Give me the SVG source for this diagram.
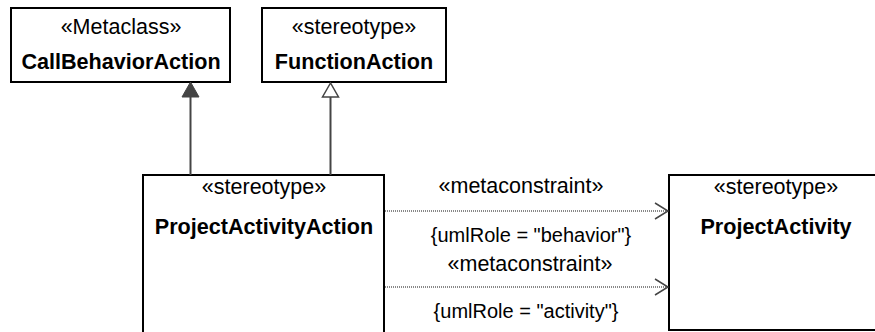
<svg xmlns="http://www.w3.org/2000/svg" width="875" height="332" viewBox="0 0 875 332">
<style>
.box{fill:#fff;stroke:#000;stroke-width:2}
.t{font-family:"Liberation Sans",Arial,sans-serif;font-size:21.5px;fill:#000;text-anchor:middle}
.b{font-weight:bold;font-size:21.6px}
.c{font-size:20px}
.gen{stroke:#444;stroke-width:2;fill:none}
.dep{stroke:#888;stroke-width:2;stroke-dasharray:1 1;fill:none}
.open{stroke:#444;stroke-width:1.5;fill:none}
</style>
<rect width="875" height="332" fill="#fff"/>
<g id="CallBehaviorAction">
<rect class="box" x="11" y="8" width="219" height="74"/>
<text class="t" x="121" y="34">«Metaclass»</text>
<text class="t b" x="121" y="69">CallBehaviorAction</text>
</g>
<g id="FunctionAction">
<rect class="box" x="262" y="8" width="184" height="74"/>
<text class="t" x="354" y="34">«stereotype»</text>
<text class="t b" x="354" y="69">FunctionAction</text>
</g>
<g id="ProjectActivityAction">
<rect class="box" x="143" y="175" width="241" height="170"/>
<text class="t" x="264" y="194">«stereotype»</text>
<text class="t b" x="264" y="234">ProjectActivityAction</text>
</g>
<g id="ProjectActivity">
<rect class="box" x="669" y="175" width="220" height="155"/>
<text class="t" x="776" y="194">«stereotype»</text>
<text class="t b" x="776" y="234">ProjectActivity</text>
</g>
<g id="connectors">
<line class="gen" x1="190.5" y1="97" x2="190.5" y2="175"/>
<polygon points="190.5,82 182,97 199,97" fill="#444" stroke="#444" stroke-width="1"/>
<line class="gen" x1="330.5" y1="97" x2="330.5" y2="175"/>
<polygon points="330.5,83 322.5,97 338.5,97" fill="#fff" stroke="#444" stroke-width="1.5"/>
<line class="dep" x1="385" y1="211" x2="668" y2="211"/>
<polyline class="open" points="655,203 668,211 655,219"/>
<line class="dep" x1="385" y1="287" x2="668" y2="287"/>
<polyline class="open" points="655,279 668,287 655,295"/>
<text class="t" x="521" y="193">«metaconstraint»</text>
<text class="t c" x="531" y="242">{umlRole = "behavior"}</text>
<text class="t" x="530" y="271">«metaconstraint»</text>
<text class="t c" x="526" y="318">{umlRole = "activity"}</text>
</g>
</svg>
